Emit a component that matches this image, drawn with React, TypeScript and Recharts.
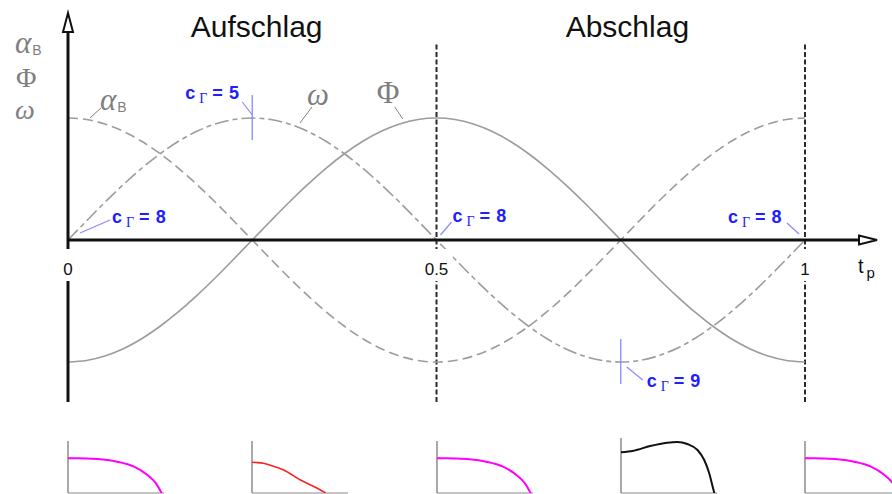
import React from 'react';
import { LineChart, Line, XAxis, YAxis, ReferenceLine, ReferenceDot } from 'recharts';

// phase time t_p over one flapping cycle
const T = [0, 0.025, 0.05, 0.075, 0.1, 0.125, 0.15, 0.175, 0.2, 0.225, 0.25, 0.275, 0.3, 0.325, 0.35, 0.375, 0.4, 0.425, 0.45, 0.475, 0.5, 0.525, 0.55, 0.575, 0.6, 0.625, 0.65, 0.675, 0.7, 0.725, 0.75, 0.775, 0.8, 0.825, 0.85, 0.875, 0.9, 0.925, 0.95, 0.975, 1];
// blade angle alpha_B (normalised)
const ALPHA_B = [1, 0.988, 0.951, 0.891, 0.809, 0.707, 0.588, 0.454, 0.309, 0.156, 0, -0.156, -0.309, -0.454, -0.588, -0.707, -0.809, -0.891, -0.951, -0.988, -1, -0.988, -0.951, -0.891, -0.809, -0.707, -0.588, -0.454, -0.309, -0.156, 0, 0.156, 0.309, 0.454, 0.588, 0.707, 0.809, 0.891, 0.951, 0.988, 1];
// flapping angle Phi (normalised)
const PHI = [-1, -0.988, -0.951, -0.891, -0.809, -0.707, -0.588, -0.454, -0.309, -0.156, 0, 0.156, 0.309, 0.454, 0.588, 0.707, 0.809, 0.891, 0.951, 0.988, 1, 0.988, 0.951, 0.891, 0.809, 0.707, 0.588, 0.454, 0.309, 0.156, 0, -0.156, -0.309, -0.454, -0.588, -0.707, -0.809, -0.891, -0.951, -0.988, -1];
// angular velocity omega (normalised)
const OMEGA = [0, 0.156, 0.309, 0.454, 0.588, 0.707, 0.809, 0.891, 0.951, 0.988, 1, 0.988, 0.951, 0.891, 0.809, 0.707, 0.588, 0.454, 0.309, 0.156, 0, -0.156, -0.309, -0.454, -0.588, -0.707, -0.809, -0.891, -0.951, -0.988, -1, -0.988, -0.951, -0.891, -0.809, -0.707, -0.588, -0.454, -0.309, -0.156, 0];

const X_TICKS = [0, 0.5, 1];
const X_TICK_LABELS = ['0', '0.5', '1'];
const PHASE_NAMES = ['Aufschlag', 'Abschlag'];
const PHASE_CENTERS = [0.256, 0.759];

// circulation coefficient c_Γ at the marked instants
const CG_T = [0, 0.25, 0.5, 0.75, 1];
const CG_VALUES = [8, 5, 8, 9, 8];

// small distribution sketches below the instants 0, 1/4, 1/2, 3/4, 1
const SKETCH_T = [0, 0.25, 0.5, 0.75, 1];
const SKETCH_FLAT_X = [0, 0.1, 0.2, 0.337, 0.512, 0.688, 0.828, 0.916, 0.968, 0.975];
const SKETCH_FLAT_V = [0.667, 0.666, 0.662, 0.648, 0.602, 0.506, 0.346, 0.186, 0.025, 0];
const SKETCH_RED_X = [0, 0.05, 0.119, 0.2, 0.33, 0.505, 0.681, 0.768];
const SKETCH_RED_V = [0.59, 0.585, 0.571, 0.53, 0.442, 0.25, 0.09, 0];
const SKETCH_HUMP_X = [0, 0.13, 0.305, 0.481, 0.586, 0.691, 0.797, 0.867, 0.919, 0.955, 0.972];
const SKETCH_HUMP_V = [0.783, 0.813, 0.904, 0.967, 0.981, 0.942, 0.827, 0.635, 0.379, 0.121, 0];

const rows = T.map((t, i) => ({ t, alpha: ALPHA_B[i], phi: PHI[i], omega: OMEGA[i] }));
const zip = (xs: number[], vs: number[]) => xs.map((x, i) => ({ x, v: vs[i] }));

const SANS = '"Liberation Sans", Arial, sans-serif';
const SERIF = '"Liberation Serif", "Times New Roman", serif';
const W = 892;
const H = 494;
const X_MIN = -0.09227;
const X_MAX = 1.11805;
const Y_MIN = -2.08197;
const Y_MAX = 1.96721;
const CURVE = '#9c9c9c';
const LABEL_GREY = '#7f7f7f';
const BLUE = '#2020ff';
const BLUE_LIGHT = '#8a8aff';

type Anchor = { cx?: number; cy?: number };

const CgText = ({ x, y, value }: { x: number; y: number; value: number }) => (
  <text x={x} y={y} fill={BLUE} fontFamily={SANS} fontSize={18} fontWeight="bold">
    c
    <tspan fontFamily={SERIF} fontWeight="normal" fontSize={14} dx={4} dy={4}>Γ</tspan>
    <tspan dx={5} dy={-4}>=</tspan>
    <tspan dx={6}>{value}</tspan>
  </text>
);

// label offsets: [text dx, text dy, leader start dx, dy, leader end dx, dy, tick]
const CG_LAYOUT: [number, number, number, number, number, number, boolean][] = [
  [44, -17, 12, -7, 42, -20, false],
  [-67, -19, -10, -16, 0, -3, true],
  [16, -18, 4, -5, 15, -18, false],
  [26, 25, 6, 5, 22, 18, true],
  [-77, -17, -18, -17, -6, -6, false],
];

const Greek = ({ x, y, ch, italic, sub, size = 31 }: { x: number; y: number; ch: string; italic?: boolean; sub?: string; size?: number }) => (
  <text x={x} y={y} fill={LABEL_GREY} fontFamily={SERIF} fontSize={size} fontStyle={italic ? 'italic' : 'normal'}>
    {ch}
    {sub ? (
      <tspan fontFamily={SANS} fontStyle="normal" fontSize={14} dx={1} dy={2}>{sub}</tspan>
    ) : null}
  </text>
);

const Sketch = ({ left, data, color, width, axisTop }: { left: number; data: { x: number; v: number }[]; color: string; width: number; axisTop: number }) => (
  <div style={{ position: 'absolute', left: left - 2, top: 436 }}>
    <LineChart width={100} height={58} data={data} margin={{ top: 0, right: 2, bottom: 1, left: 2 }}>
      <XAxis type="number" dataKey="x" domain={[0, 1]} hide allowDataOverflow />
      <YAxis type="number" domain={[0, 1.096]} hide allowDataOverflow />
      <ReferenceLine segment={[{ x: 0, y: 0 }, { x: 1, y: 0 }]} stroke="#b0b0b0" strokeWidth={1.5} ifOverflow="visible" />
      <ReferenceLine segment={[{ x: 0, y: 0 }, { x: 0, y: axisTop }]} stroke="#a0a0a0" strokeWidth={1.8} ifOverflow="visible" />
      <Line dataKey="v" type="monotone" stroke={color} strokeWidth={width} dot={false} isAnimationActive={false} />
    </LineChart>
  </div>
);

const Layer = ({ children }: { children: React.ReactNode }) => (
  <div style={{ position: 'absolute', left: 0, top: 0 }}>
    <LineChart width={W} height={H} data={rows} margin={{ top: 0, right: 0, bottom: 0, left: 0 }}>
      <XAxis type="number" dataKey="t" domain={[X_MIN, X_MAX]} hide allowDataOverflow />
      <YAxis type="number" domain={[Y_MIN, Y_MAX]} hide allowDataOverflow />
      {children}
    </LineChart>
  </div>
);

export default function App() {
  const sketches = [
    { data: zip(SKETCH_FLAT_X, SKETCH_FLAT_V), color: '#ff00ff', width: 2, axisTop: 1 },
    { data: zip(SKETCH_RED_X, SKETCH_RED_V), color: '#ff2020', width: 1.6, axisTop: 1 },
    { data: zip(SKETCH_FLAT_X, SKETCH_FLAT_V), color: '#ff00ff', width: 2, axisTop: 1 },
    { data: zip(SKETCH_HUMP_X, SKETCH_HUMP_V), color: '#111111', width: 2, axisTop: 1.058 },
    { data: zip(SKETCH_FLAT_X, SKETCH_FLAT_V), color: '#ff00ff', width: 2, axisTop: 1 },
  ];
  return (
    <div style={{ position: 'absolute', left: 0, top: 0, width: W, height: H, overflow: 'hidden', background: '#fff' }}>
      {/* curves, phase boundaries and annotations */}
      <Layer>
        {[0.5, 1].map((x) => (
          <ReferenceLine key={x} segment={[{ x, y: -1.328 }, { x, y: 1.607 }]} stroke="#2a2a2a" strokeWidth={2} strokeDasharray="5 2.5" />
        ))}

        <Line dataKey="alpha" type="monotone" stroke={CURVE} strokeWidth={1.6} strokeDasharray="10 5" dot={false} isAnimationActive={false} />
        <Line dataKey="omega" type="monotone" stroke={CURVE} strokeWidth={1.6} strokeDasharray="14 4 5 4" dot={false} isAnimationActive={false} />
        <Line dataKey="phi" type="monotone" stroke={CURVE} strokeWidth={1.6} dot={false} isAnimationActive={false} />

        <ReferenceDot x={1.072} y={-0.27} r={1} shape={(p: Anchor) => (
          <text x={p.cx} y={p.cy} fontFamily={SANS} fontSize={20} fill="#111">
            t<tspan fontSize={15} dx={3} dy={5}>p</tspan>
          </text>
        )} />

        {PHASE_NAMES.map((name, i) => (
          <ReferenceDot key={name} x={PHASE_CENTERS[i]} y={1.664} r={1} shape={(p: Anchor) => (
            <text x={p.cx} y={p.cy} textAnchor="middle" fontFamily={SANS} fontSize={30} fill="#111">{name}</text>
          )} />
        ))}

        {/* quantities on the vertical axis */}
        <ReferenceDot x={-0.0719} y={1.533} r={1} ifOverflow="visible" shape={(p: Anchor) => {
          const x = p.cx as number;
          const y = p.cy as number;
          return (
            <g>
              <Greek x={x} y={y} ch="α" italic sub="B" />
              <Greek x={x + 1} y={y + 34} ch="Φ" size={28} />
              <Greek x={x} y={y + 66} ch="ω" italic size={28} />
            </g>
          );
        }} />

        {/* curve names with leaders */}
        <ReferenceDot x={0.0434} y={1.066} r={1} shape={(p: Anchor) => {
          const x = p.cx as number;
          const y = p.cy as number;
          return (
            <g>
              <line x1={x - 10} y1={y + 8} x2={x + 1} y2={y - 2} stroke={LABEL_GREY} strokeWidth={1} />
              <Greek x={x} y={y} ch="α" italic sub="B" />
            </g>
          );
        }} />
        <ReferenceDot x={0.3243} y={1.107} r={1} shape={(p: Anchor) => {
          const x = p.cx as number;
          const y = p.cy as number;
          return (
            <g>
              <line x1={x - 7} y1={y + 18} x2={x + 5} y2={y + 2} stroke={LABEL_GREY} strokeWidth={1} />
              <Greek x={x} y={y} ch="ω" italic />
            </g>
          );
        }} />
        <ReferenceDot x={0.419} y={1.123} r={1} shape={(p: Anchor) => {
          const x = p.cx as number;
          const y = p.cy as number;
          return (
            <g>
              <line x1={x + 18} y1={y + 4} x2={x + 26} y2={y + 16} stroke={LABEL_GREY} strokeWidth={1} />
              <Greek x={x} y={y} ch="Φ" />
            </g>
          );
        }} />
      </Layer>

      {/* axes, tick labels and c_Γ marks drawn on top of the curves */}
      <Layer>
        <ReferenceLine segment={[{ x: 0, y: 0 }, { x: 1.0733, y: 0 }]} stroke="#111" strokeWidth={3} />
        <ReferenceLine segment={[{ x: 0, y: -1.328 }, { x: 0, y: 1.705 }]} stroke="#111" strokeWidth={3} />
        <ReferenceDot x={1.0977} y={0} r={1} shape={(p: Anchor) => (
          <polygon points={`${p.cx},${p.cy} ${(p.cx as number) - 18},${(p.cy as number) - 4.5} ${(p.cx as number) - 18},${(p.cy as number) + 4.5}`} fill="#fff" stroke="#111" strokeWidth={2} />
        )} />
        <ReferenceDot x={0} y={1.861} r={1} shape={(p: Anchor) => (
          <polygon points={`${p.cx},${p.cy} ${(p.cx as number) - 5},${(p.cy as number) + 19} ${(p.cx as number) + 5},${(p.cy as number) + 19}`} fill="#fff" stroke="#111" strokeWidth={2} />
        )} />

        {X_TICKS.map((x, i) => (
          <ReferenceDot key={'tk' + x} x={x} y={0} r={1} shape={(p: Anchor) => {
            const label = X_TICK_LABELS[i];
            const w = label.length * 9.5 + 4;
            return (
              <g>
                <rect x={(p.cx as number) - w / 2} y={(p.cy as number) + 9} width={w} height={32} fill="#fff" />
                <text x={p.cx} y={(p.cy as number) + 35} textAnchor="middle" fontFamily={SANS} fontSize={17} fill="#111">{label}</text>
              </g>
            );
          }} />
        ))}

        {CG_T.map((t, i) => {
          const [tx, ty, ax, ay, bx, by, tick] = CG_LAYOUT[i];
          return (
            <ReferenceDot key={'cg' + i} x={t} y={OMEGA[T.indexOf(t)]} r={1} shape={(p: Anchor) => {
              const x = p.cx as number;
              const y = p.cy as number;
              return (
                <g>
                  {tick ? <line x1={x} y1={y - 23} x2={x} y2={y + 22} stroke={BLUE_LIGHT} strokeWidth={1.3} /> : null}
                  <line x1={x + ax} y1={y + ay} x2={x + bx} y2={y + by} stroke={BLUE_LIGHT} strokeWidth={1.2} />
                  <CgText x={x + tx} y={y + ty} value={CG_VALUES[i]} />
                </g>
              );
            }} />
          );
        })}
      </Layer>

      {sketches.map((s, i) => (
        <Sketch key={i} left={68 + SKETCH_T[i] * 737} data={s.data} color={s.color} width={s.width} axisTop={s.axisTop} />
      ))}
    </div>
  );
}
